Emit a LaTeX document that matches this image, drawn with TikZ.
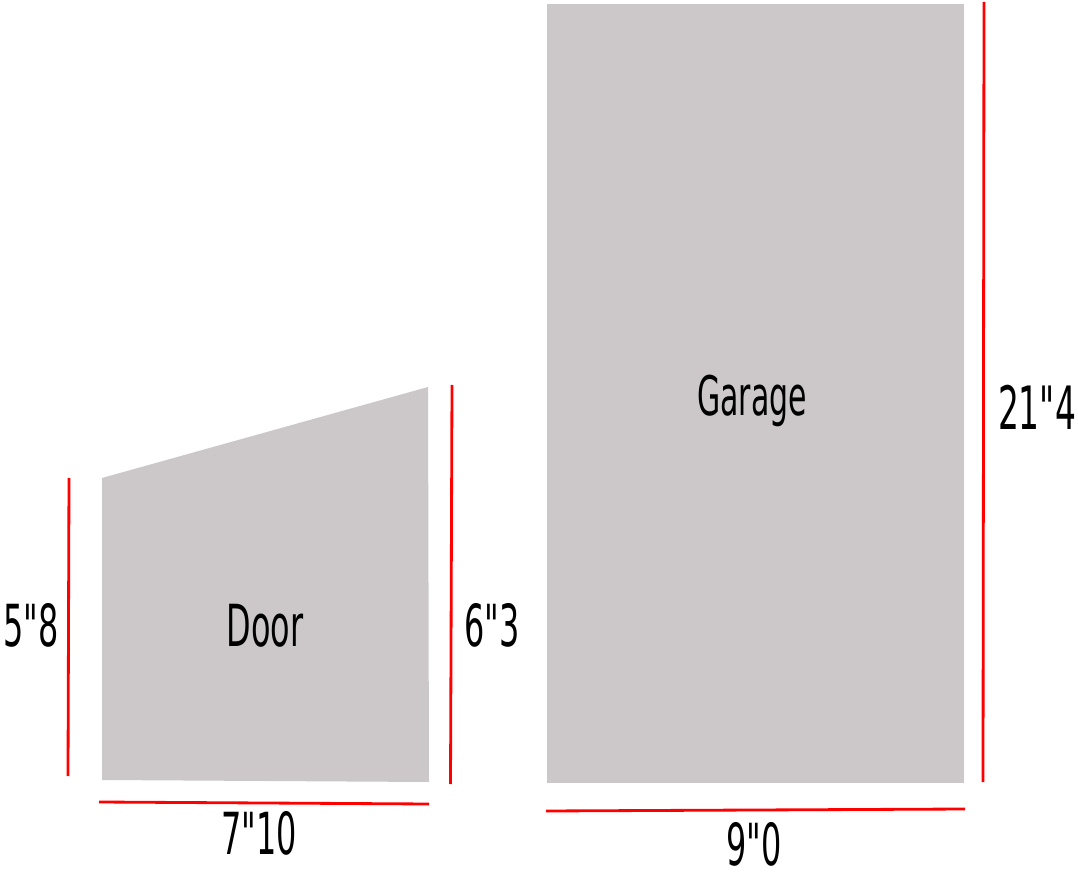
\documentclass[tikz,border=0pt]{standalone}
\usepackage{xcolor}
\usepackage{fontspec}
\usepackage{tikz}
\usetikzlibrary{positioning,calc}
\newfontfamily\labelfont{DejaVu Sans}[FakeStretch=0.55]
\definecolor{shapegray}{RGB}{204, 200, 201}
\definecolor{dimred}{RGB}{255, 0, 0}

\begin{document}
\begin{tikzpicture}[
    area/.style={fill=shapegray, draw=none},
    dimline/.style={draw=dimred, line width=1.6pt},
    measure/.style={anchor=base, inner sep=0pt, font=\labelfont\fontsize{33}{36}\selectfont},
    title/.style={measure}
]

\useasboundingbox (0,0) rectangle (21.56,17.6);

% Door - left shape
\fill[area] (2.04,2.00) -- (2.04,8.04) -- (8.56,9.86) -- (8.58,1.96) -- cycle;
\node[title] (door) at (5.30,4.68) {Door};

% Door dimensions
\draw[dimline] (1.38,8.04) -- (1.36,2.08);
\node[measure] (doorleft) at (0.62,4.68) {5"8};
\draw[dimline] (9.04,9.90) -- (9.01,1.92);
\node[measure] (doorright) at (9.84,4.68) {6"3};
\draw[dimline] (1.98,1.56) -- (8.58,1.52);
\node[measure] (doorwidth) at (5.18,0.52) {7"10};

% Garage - right shape
\fill[area] (10.94,1.94) rectangle (19.28,17.52);
\node[title, font=\labelfont\fontsize{31}{34}\selectfont] (garage) at (15.04,9.28) {Garage};

% Garage dimensions
\draw[dimline] (19.68,17.56) -- (19.66,1.96);
\node[measure, font=\labelfont\fontsize{34}{37}\selectfont] (garagelength) at (20.74,9.00) {21"4};
\draw[dimline] (10.92,1.38) -- (19.30,1.42);
\node[measure] (garagewidth) at (15.08,0.30) {9"0};

\end{tikzpicture}
\end{document}
